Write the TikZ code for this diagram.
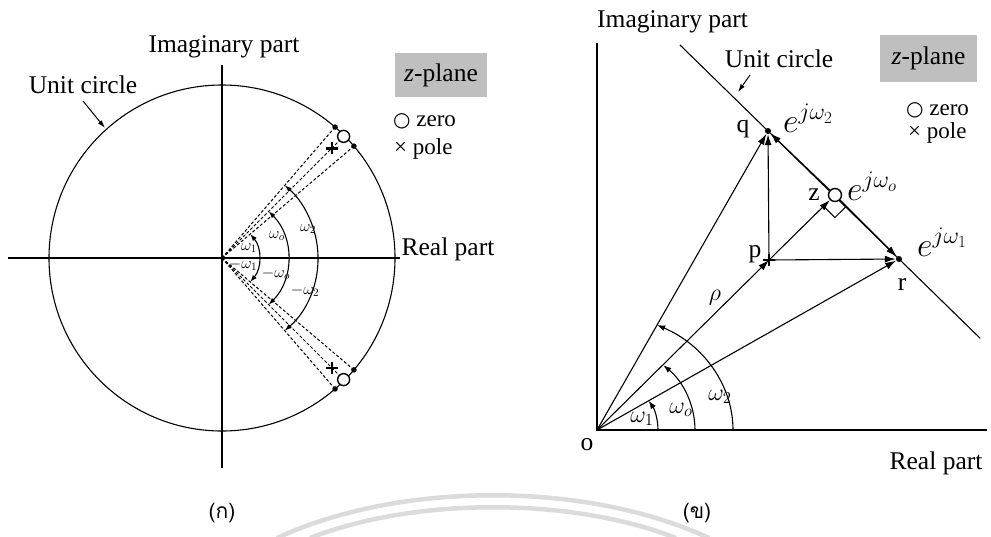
\RequirePackage{fix-cm}
\documentclass[tikz,border=0pt]{standalone}
\usepackage{fontspec}
\setmainfont{Liberation Serif}
\newfontfamily\thaifont[Script=Thai]{Loma}
\newfontfamily\symfont{DejaVu Sans}
\usetikzlibrary{arrows.meta,calc}
\tikzset{
  txt/.style={font=\fontsize{25.5}{28}\selectfont, inner sep=0pt},
  keytxt/.style={font=\fontsize{23}{25}\selectfont, inner sep=0pt},
  small/.style={font=\fontsize{16}{18}\selectfont, inner sep=0pt},
  mid/.style={font=\fontsize{24}{28}\selectfont, inner sep=0pt},
  big/.style={font=\fontsize{34}{38}\selectfont, inner sep=0pt},
  captxt/.style={font=\thaifont\fontsize{21}{24}\selectfont, inner sep=0pt},
  ln/.style={line width=1.1pt},
  axisline/.style={line width=1.3pt},
  dsh/.style={line width=1pt, dash pattern=on 3pt off 2pt},
  dblarr/.style={line width=1.1pt, {Latex[length=7pt,width=5pt]}-{Latex[length=7pt,width=5pt]}},
  arrR/.style={line width=1.1pt, -{Latex[length=11pt,width=7pt]}},
  arcR/.style={line width=1.1pt, -{Latex[length=8pt,width=6pt]}},
  lblarr/.style={line width=1pt, -{Latex[length=8pt,width=5pt]}},
  zero/.style={circle, draw, fill=white, line width=1.4pt, minimum size=12pt, inner sep=0pt},
  dot/.style={circle, fill, inner sep=0pt, minimum size=6pt},
  keybox/.style={fill=gray!50, inner sep=0pt, minimum width=92pt, minimum height=44pt, font=\fontsize{25.5}{28}\selectfont},
  plusmark/.pic={\draw[line width=2.2pt] (-6,0)--(6,0) (0,-6)--(0,6);},
  wm/.style={line width=4.5pt, gray!28},
}
\newcommand{\zsym}{{\symfont\fontsize{20}{22}\selectfont ○}}
\begin{document}
\begin{tikzpicture}[x=1pt,y=-1pt]
\useasboundingbox (0,0) rectangle (991,536);
\fill[white] (0,0) rectangle (991,536);

% watermark arcs
\coordinate (wa1) at (277,538); \coordinate (wa2) at (709,538);
\coordinate (wb1) at (310,538); \coordinate (wb2) at (676,538);
\draw[wm] (wa1) .. controls (400,481) and (586,481) .. (wa2);
\draw[wm] (wb1) .. controls (415,497) and (571,497) .. (wb2);

% ================= LEFT =================
\coordinate (L) at (222,258);
\coordinate (Lxw) at (8,258); \coordinate (Lxe) at (400,258);
\coordinate (Lyn) at (222,65); \coordinate (Lys) at (222,468);
\draw[axisline] (Lxw) -- (Lxe);
\draw[axisline] (Lyn) -- (Lys);
\draw[ln] (L) circle[radius=173];
\begin{scope}[shift={(L)}]
  \coordinate (u1) at (-40.3:173);
  \coordinate (u2) at (-49.2:173);
  \coordinate (u0) at (-45:172);
  \coordinate (up) at (-45:155);
  \coordinate (d1) at (40.3:173);
  \coordinate (d2) at (49.2:173);
  \coordinate (d0) at (45:172);
  \coordinate (dp) at (45:155);
  \draw[dblarr] (40.3:37) arc[start angle=40.3,end angle=-40.3,radius=37];
  \draw[dblarr] (45:66) arc[start angle=45,end angle=-45,radius=66];
  \draw[dblarr] (49.2:96) arc[start angle=49.2,end angle=-49.2,radius=96];
\end{scope}
\foreach \t in {u1,u2,u0,d1,d2,d0} \draw[dsh] (L) -- (\t);
\node[zero] (zu) at (u0) {};
\node[zero] (zd) at (d0) {};
\node[dot, minimum size=5.5pt] (du1) at (u1) {};
\node[dot, minimum size=5.5pt] (du2) at (u2) {};
\node[dot, minimum size=5.5pt] (dd1) at (d1) {};
\node[dot, minimum size=5.5pt] (dd2) at (d2) {};
\pic at (up) {plusmark};
\pic at (dp) {plusmark};

\node[small] (lw1) at (249,248) {$\omega_1$};
\node[small] (lw1n) at (243,265) {$-\omega_1$};
\node[small] (lwo) at (277,236) {$\omega_o$};
\node[small] (lwon) at (276,274) {$-\omega_o$};
\node[small] (lw2) at (308,229) {$\omega_2$};
\node[small] (lw2n) at (305,291) {$-\omega_2$};

\node[txt, anchor=base] (limag) at (224,52) {Imaginary part};
\node[txt, anchor=base] (lunit) at (83,93) {Unit circle};
\coordinate (lua) at (83,101); \coordinate (lub) at (105,128);
\draw[lblarr] (lua) -- (lub);
\node[txt, anchor=base] (lreal) at (448,255) {Real part};
\node[keybox] (lbox) at (441,75) {\textit{z}-plane};
\node[keytxt, anchor=base west] (lkz) at (393,126) {\zsym\ zero};
\node[keytxt, anchor=base west] (lkp) at (394,154) {× pole};

% ================= RIGHT =================
\coordinate (O) at (597,430);
\coordinate (Ryn) at (597,43); \coordinate (Rxe) at (987,430);
\draw[axisline] (Ryn) -- (O) -- (Rxe);
\node[dot] (q) at (768,131) {};
\node[dot] (r) at (899,259) {};
\coordinate (p) at (769,260);
\coordinate (z) at (835,195);
\coordinate (ua) at ($(q)!-0.672!(r)$);
\coordinate (ub) at ($(q)!1.62!(r)$);
\draw[ln] (ua) -- (ub);
\coordinate (c1) at ($(z)!16pt!(p)$);
\coordinate (c3) at ($(z)!16pt!(r)$);
\draw[line width=1pt] (c1) -- ($(c1)+(c3)-(z)$) -- (c3);
\node[zero, minimum size=13pt] (zc) at (z) {};
\draw[arrR] (O) -- (q);
\draw[arrR] (O) -- (p);
\draw[arrR] (O) -- (r);
\draw[arrR] (p) -- (q);
\draw[arrR] (p) -- (r);
\draw[arrR] (p) -- (zc);
\draw[arrR] (zc) -- (q);
\draw[arrR] (zc) -- (r);
\pic at (p) {plusmark};
\begin{scope}[shift={(O)}]
  \draw[arcR] (61,0) arc[start angle=0,end angle=-32,x radius=61,y radius=55];
  \draw[arcR] (98,0) arc[start angle=0,end angle=-47.4,x radius=98,y radius=88];
  \draw[arcR] (136,0) arc[start angle=0,end angle=-63.8,x radius=136,y radius=117];
\end{scope}

\node[mid] (rw1) at (642,419) {$\omega_1$};
\node[mid] (rwo) at (681,410) {$\omega_o$};
\node[mid] (rw2) at (720,397) {$\omega_2$};
\node[mid] (rho) at (715,298) {$\rho$};

\node[txt, anchor=base] (lq) at (743,132) {q};
\node[txt, anchor=base] (lp) at (755,257) {p};
\node[txt, anchor=base] (lz) at (814,200) {z};
\node[txt, anchor=base] (lr) at (902,290) {r};
\node[txt, anchor=base] (lo) at (587,450) {o};
\node[big, anchor=base west] (e2) at (783,132) {$e^{j\omega_2}$};
\node[big, anchor=base west] (eo) at (847,200) {$e^{j\omega_o}$};
\node[big, anchor=base west] (e1) at (917,256) {$e^{j\omega_1}$};

\node[txt, anchor=base west] (rimag) at (597,27) {Imaginary part};
\node[txt, anchor=base] (runit) at (779,67) {Unit circle};
\coordinate (rua) at (750,75); \coordinate (rub) at (738,92);
\draw[lblarr] (rua) -- (rub);
\node[txt, anchor=base] (rreal) at (936,469) {Real part};
\node[keybox, minimum width=97pt, minimum height=47pt] (rbox) at (928.5,58.5) {\textit{z}-plane};
\node[keytxt, anchor=base west] (rkz) at (906,115) {\zsym\ zero};
\node[keytxt, anchor=base west] (rkp) at (908,138) {× pole};

% captions
\node[captxt] (c1cap) at (222,513) {(ก)};
\node[captxt] (c2cap) at (697,513) {(ข)};
\end{tikzpicture}
\end{document}
